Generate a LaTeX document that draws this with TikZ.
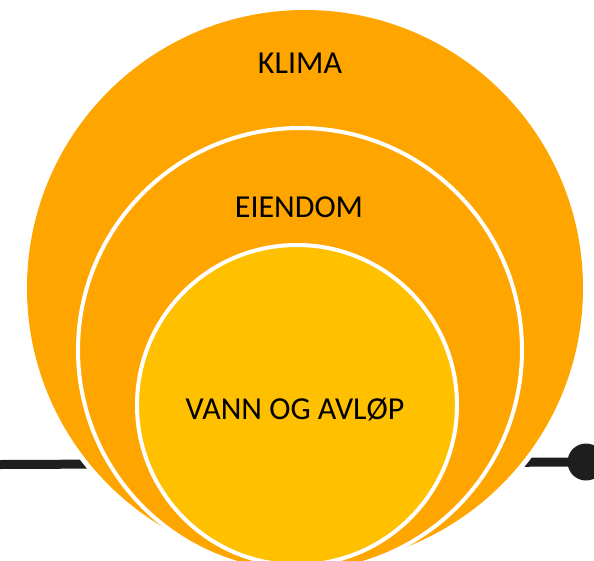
\documentclass[tikz,border=0pt]{standalone}
\usepackage{fontspec}
\setmainfont{Carlito}
\definecolor{outerorange}{RGB}{255,165,0}
\definecolor{inneryellow}{RGB}{255,192,0}
\definecolor{linegray}{RGB}{30,30,30}
\begin{document}
\begin{tikzpicture}[x=1pt,y=-1pt,
  ring/.style={circle,inner sep=0pt,outer sep=0pt},
  lbl/.style={anchor=base,inner sep=0pt,font=\fontsize{32}{38}\selectfont,text=black}]
\useasboundingbox (0,0) rectangle (594,560);
\clip (0,0) rectangle (594,560);
% connector behind the circles
\coordinate (L) at (0,464.5);
\node[ring,fill=linegray,minimum size=37pt] (dot) at (586,462) {};
\draw[linegray,line width=9pt] (L) -- (dot.center);
% outer circle with white margin
\node[ring,fill=white,minimum size=566pt] (outerwhite) at (305,288) {};
\node[ring,fill=outerorange,minimum size=556pt] (klima) at (305,288) {};
% middle circle
\node[ring,fill=outerorange,draw=white,line width=4pt,minimum size=444pt] (eiendom) at (300,350) {};
% inner circle
\node[ring,fill=inneryellow,draw=white,line width=4pt,minimum size=320pt] (vann) at (297,405) {};
% labels
\node[lbl] (t1) at (300,73) {KLIMA};
\node[lbl] (t2) at (299,217) {EIENDOM};
\node[lbl] (t3) at (295,419) {VANN OG AVLØP};
\end{tikzpicture}
\end{document}
